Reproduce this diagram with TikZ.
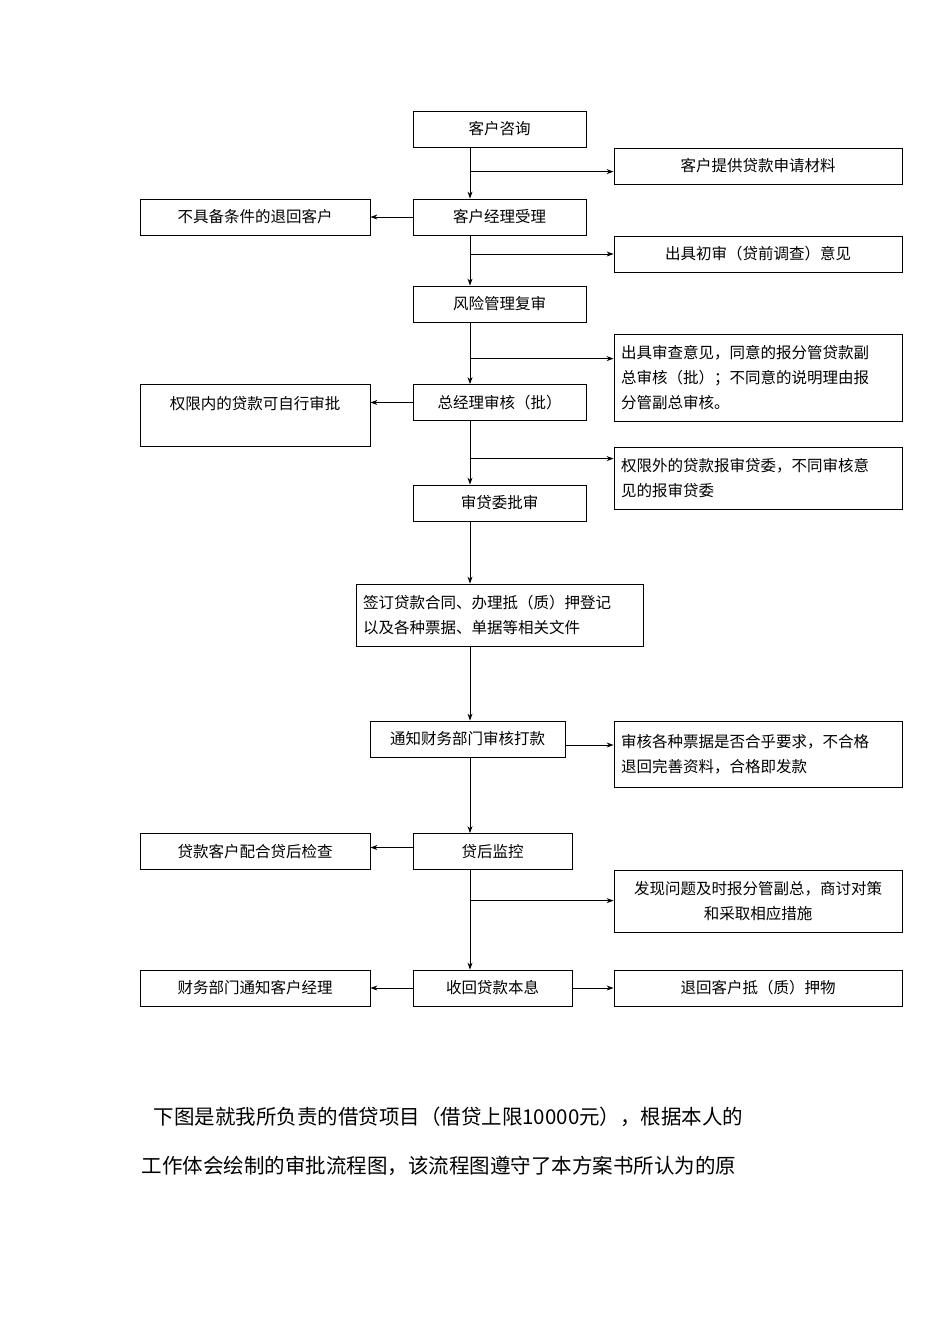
\documentclass[tikz,border=0pt]{standalone}
\usepackage{fontspec}
\setmainfont{Noto Sans CJK SC}
\usetikzlibrary{arrows.meta,calc}
\begin{document}
\begin{tikzpicture}[x=1pt,y=-1pt,
  box/.style={draw,line width=0.8pt,minimum height=36pt,font=\fontsize{15.5}{25}\selectfont,inner sep=2pt},
  arr/.style={-{Stealth[length=7pt,width=5pt]},line width=0.9pt}]
\useasboundingbox (0,0) rectangle (950,1344);
\node[box,minimum width=173pt] (a) at (499.5,129) {客户咨询};
\node[box,minimum width=288pt] (r1) at (758,166) {客户提供贷款申请材料};
\node[box,minimum width=173pt] (b) at (499.5,217) {客户经理受理};
\node[box,minimum width=230pt] (l1) at (255,217) {不具备条件的退回客户};
\node[box,minimum width=288pt] (r2) at (758,254) {出具初审（贷前调查）意见};
\node[box,minimum width=173pt] (c) at (499.5,304) {风险管理复审};
\node[box,minimum width=288pt,minimum height=87pt,align=left,text width=274pt] (r3) at (758,377.5) {出具审查意见，同意的报分管贷款副\\总审核（批）；不同意的说明理由报\\分管副总审核。};
\node[box,minimum width=173pt] (d) at (499.5,402.5) {总经理审核（批）};
\node[draw,line width=0.8pt,minimum width=230pt,minimum height=62pt] (l2) at (255,415) {};
\node[font=\fontsize{15.5}{25}\selectfont] (l2t) at (255,404) {权限内的贷款可自行审批};
\node[box,minimum width=288pt,minimum height=62pt,align=left,text width=274pt] (r4) at (758,478) {权限外的贷款报审贷委，不同审核意\\见的报审贷委};
\node[box,minimum width=173pt] (e) at (499.5,503) {审贷委批审};
\node[box,minimum width=287pt,minimum height=62pt,align=left,text width=273pt] (f) at (499.5,615) {签订贷款合同、办理抵（质）押登记\\以及各种票据、单据等相关文件};
\node[box,minimum width=195pt] (g) at (467.5,739) {通知财务部门审核打款};
\node[box,minimum width=288pt,minimum height=66pt,align=left,text width=274pt] (r5) at (758,754) {审核各种票据是否合乎要求，不合格\\退回完善资料，合格即发款};
\node[box,minimum width=159pt] (h) at (492.5,851.5) {贷后监控};
\node[box,minimum width=230pt] (l3) at (255,851.5) {贷款客户配合贷后检查};
\node[box,minimum width=288pt,minimum height=62pt,align=center,text width=274pt] (r6) at (758,901) {发现问题及时报分管副总，商讨对策\\和采取相应措施};
\node[box,minimum width=159pt] (i) at (492.5,988) {收回贷款本息};
\node[box,minimum width=230pt] (l4) at (255,988) {财务部门通知客户经理};
\node[box,minimum width=288pt] (r7) at (758,988) {退回客户抵（质）押物};
\coordinate (s) at (470,0);
\foreach \p/\q in {a/b,b/c,c/d,d/e,e/f,f/g,g/h,h/i}
  \draw[arr] (\p.south -| s) -- (\q.north -| s);
\coordinate (r1p) at ($(r1.north west)+(0,24)$);
\coordinate (r3p) at ($(r3.north west)+(0,25)$);
\coordinate (r4p) at ($(r4.north west)+(0,12)$);
\coordinate (r6p) at ($(r6.north west)+(0,31)$);
\foreach \r in {r1p,r2.west,r3p,r4p,r6p}
  \draw[arr] (\r -| s) -- (\r);
\coordinate (hp) at ($(h.west)+(0,-4)$);
\coordinate (gp) at ($(g.east)+(0,6)$);
\draw[arr] (b.west) -- (l1.east);
\draw[arr] (d.west) -- (d.west -| l2.east);
\draw[arr] (hp) -- (hp -| l3.east);
\draw[arr] (i.west) -- (l4.east);
\draw[arr] (gp) -- (gp -| r5.west);
\draw[arr] (i.east) -- (r7.west);
\node[anchor=west,font=\fontsize{20.5}{24}\selectfont] (p1) at (150,1117) {下图是就我所负责的借贷项目（借贷上限10000元），根据本人的};
\node[anchor=west,font=\fontsize{20.5}{24}\selectfont] (p2) at (138,1166) {工作体会绘制的审批流程图，该流程图遵守了本方案书所认为的原};
\end{tikzpicture}
\end{document}
